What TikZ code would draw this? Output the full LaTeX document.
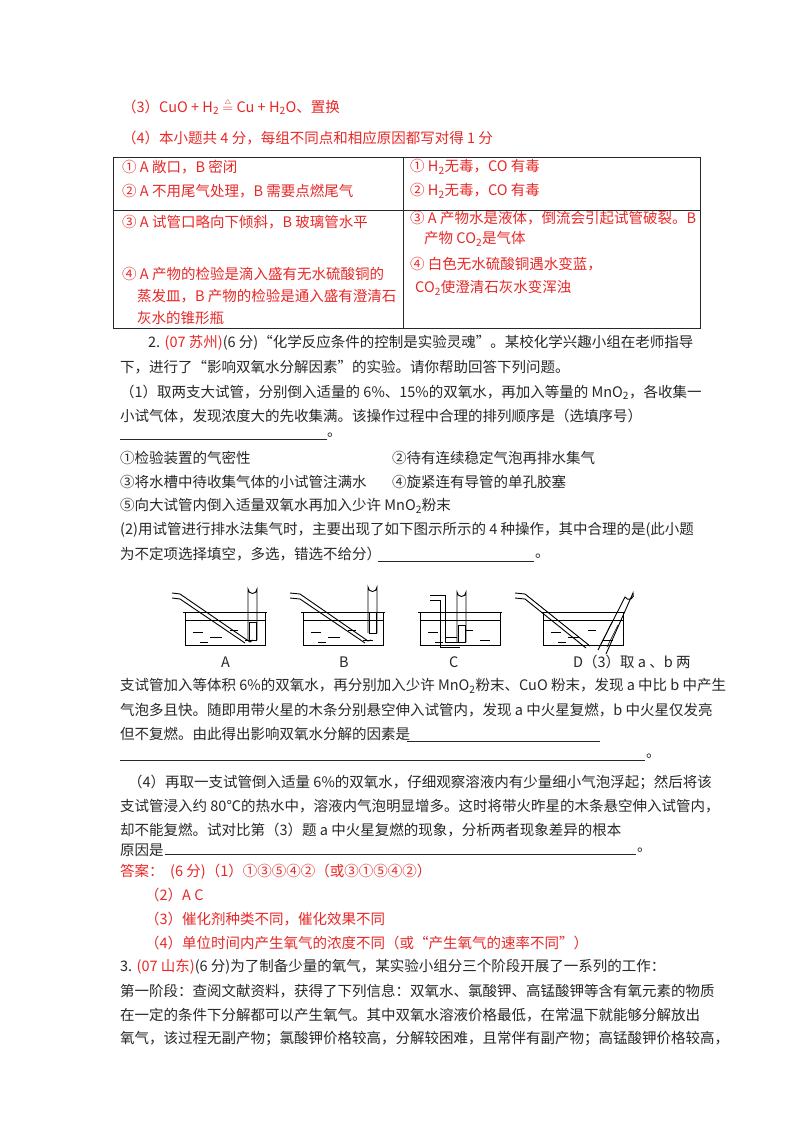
\documentclass[tikz,border=0pt]{standalone}
\usepackage{fontspec}
\setmainfont{Noto Sans CJK SC}
\definecolor{ans}{RGB}{232,40,40}
\definecolor{ink}{RGB}{40,40,40}
\tikzset{x=1pt,y=-1pt,
 tx/.style={anchor=west,inner sep=0pt,text=ink,font=\fontsize{14.5}{16}\selectfont},
 rd/.style={tx,text=ans},
 app/.style={line width=0.9pt,black},
 ul/.style={line width=0.7pt,ink}}
\newcommand\sub[1]{\textsubscript{#1}}
\begin{document}
\begin{tikzpicture}
\useasboundingbox[fill=white] (0,0) rectangle (800,1132);
% top answers
\node[rd] (a3) at (122,107) {（3）CuO + H\sub{2} $\stackrel{\scriptscriptstyle\triangle}{=}$ Cu + H\sub{2}O、置换};
\node[rd] (a4) at (122,138) {（4）本小题共 4 分，每组不同点和相应原因都写对得 1 分};
% table
\draw[line width=0.8pt,ink] (113,157) rectangle (700,328);
\draw[line width=0.8pt,ink] (113,210) -- (700,210) (403,157) -- (403,328);
\node[rd] (c1) at (122,167) {① A 敞口，B 密闭};
\node[rd] (c2) at (122,191) {② A 不用尾气处理，B 需要点燃尾气};
\node[rd] (c3) at (122,222) {③ A 试管口略向下倾斜，B 玻璃管水平};
\node[rd] (c4) at (122,274) {④ A 产物的检验是滴入盛有无水硫酸铜的};
\node[rd] (c5) at (137,296) {蒸发皿，B 产物的检验是通入盛有澄清石};
\node[rd] (c6) at (137,318) {灰水的锥形瓶};
\node[rd] (d1) at (410,167) {① H\sub{2}无毒，CO 有毒};
\node[rd] (d2) at (410,191) {② H\sub{2}无毒，CO 有毒};
\node[rd] (d3) at (410,218) {③ A 产物水是液体，倒流会引起试管破裂。B};
\node[rd] (d4) at (424,239) {产物 CO\sub{2}是气体};
\node[rd] (d5) at (410,264) {④ 白色无水硫酸铜遇水变蓝，};
\node[rd] (d6) at (415,288) {CO\sub{2}使澄清石灰水变浑浊};
% question 2
\node[tx] (q1) at (148,343) {2. \textcolor{ans}{(07 苏州)}(6 分)“化学反应条件的控制是实验灵魂”。某校化学兴趣小组在老师指导};
\node[tx] (q2) at (120,367) {下，进行了“影响双氧水分解因素”的实验。请你帮助回答下列问题。};
\node[tx] (q3) at (120,392) {（1）取两支大试管，分别倒入适量的 6\%、15\%的双氧水，再加入等量的 MnO\sub{2}，各收集一};
\node[tx] (q4) at (120,416) {小试气体，发现浓度大的先收集满。该操作过程中合理的排列顺序是（选填序号）};
\coordinate (u1a) at (120,439); \coordinate (u1b) at (327,439);
\draw[ul] (u1a) -- (u1b);
\node[tx] (p1) at (327,435) {。};
\node[tx] (o1) at (120,458) {①检验装置的气密性};
\node[tx] (o2) at (392,458) {②待有连续稳定气泡再排水集气};
\node[tx] (o3) at (120,482) {③将水槽中待收集气体的小试管注满水};
\node[tx] (o4) at (392,482) {④旋紧连有导管的单孔胶塞};
\node[tx] (o5) at (120,506) {⑤向大试管内倒入适量双氧水再加入少许 MnO\sub{2}粉末};
\node[tx] (q5) at (120,530) {(2)用试管进行排水法集气时，主要出现了如下图示所示的 4 种操作，其中合理的是(此小题};
\node[tx] (q6) at (120,554) {为不定项选择填空，多选，错选不给分）};
\coordinate (u2a) at (378,561); \coordinate (u2b) at (534,561);
\draw[ul] (u2a) -- (u2b);
\node[tx] (p2) at (535,556) {。};
% apparatus
\foreach \bx/\nm in {185/A,303/B,420/C,543/D}{
  \draw[app] (\bx-2,612) -- (\bx+82,612);
  \draw[app] (\bx,612) -- (\bx,645) -- (\bx+80,645) -- (\bx+80,612);
  \draw[line width=0.6pt] (\bx,620) -- (\bx+80,620);
  \foreach \dx/\dy/\l in {8/632/10,25/637/12,45/630/8,60/640/10,15/642/8}{\draw[line width=0.6pt] (\bx+\dx,\dy) -- ++(\l,0);}
}
% A
\draw[app] (172,593) -- (180,594) -- (250,642) -- (253,640);
\draw[app] (172,598) -- (180,599) -- (245,643);
\draw[app] (248,640) -- (248,589) arc[start angle=180,end angle=0,radius=4.5] -- (257,640);
\draw[line width=0.6pt] (249,622) rectangle (256,640);
% B
\draw[app] (290,593) -- (300,594) -- (368,641) -- (371,640);
\draw[app] (290,598) -- (300,599) -- (365,643);
\draw[app] (368,633) -- (368,587) arc[start angle=180,end angle=0,radius=4.5] -- (377,633);
\draw[line width=0.6pt] (369,612) rectangle (376,633);
% C
\draw[app] (430,595) -- (445,595) -- (445,642) -- (460,642);
\draw[app] (430,600) -- (440,600) -- (440,647) -- (460,647);
\draw[app] (457,642) -- (457,592) arc[start angle=180,end angle=0,radius=4.5] -- (466,642);
\draw[line width=0.6pt] (458,625) rectangle (465,642);
% D
\draw[app] (515,593) -- (525,594) -- (590,646);
\draw[app] (515,598) -- (525,599) -- (586,648);
\draw[app] (598,650) -- (625,597) arc[start angle=153,end angle=-27,radius=4.5] -- (606,654);
\draw[line width=0.6pt] (601,644) -- (612,622) (607,647) -- (618,625);
\node[tx] (lA) at (221,662) {A};
\node[tx] (lB) at (339,662) {B};
\node[tx] (lC) at (449,662) {C};
\node[tx] (q7) at (573,662) {D（3）取 a 、b 两};
\node[tx] (q8) at (120,686) {支试管加入等体积 6\%的双氧水，再分别加入少许 MnO\sub{2}粉末、CuO 粉末，发现 a 中比 b 中产生};
\node[tx] (q9) at (120,710) {气泡多且快。随即用带火星的木条分别悬空伸入试管内，发现 a 中火星复燃，b 中火星仅发亮};
\node[tx] (q10) at (120,734) {但不复燃。由此得出影响双氧水分解的因素是};
\coordinate (u3a) at (407,741); \coordinate (u3b) at (600,741);
\draw[ul] (u3a) -- (u3b);
\coordinate (u4a) at (120,760); \coordinate (u4b) at (645,760);
\draw[ul] (u4a) -- (u4b);
\node[tx] (p3) at (646,756) {。};
\node[tx] (q11) at (128,782) {（4）再取一支试管倒入适量 6\%的双氧水，仔细观察溶液内有少量细小气泡浮起；然后将该};
\node[tx] (q12) at (120,806) {支试管浸入约 80℃的热水中，溶液内气泡明显增多。这时将带火昨星的木条悬空伸入试管内，};
\node[tx] (q13) at (120,830) {却不能复燃。试对比第（3）题 a 中火星复燃的现象，分析两者现象差异的根本};
\node[tx] (q14) at (120,850) {原因是};
\coordinate (u5a) at (165,854); \coordinate (u5b) at (636,854);
\draw[ul] (u5a) -- (u5b);
\node[tx] (p4) at (637,850) {。};
% answers
\node[rd] (r1) at (120,872) {答案：\ \ (6 分)（1）①③⑤④②（或③①⑤④②）};
\node[rd] (r2) at (145,895) {（2）A C};
\node[rd] (r3) at (145,919) {（3）催化剂种类不同，催化效果不同};
\node[rd] (r4) at (145,943) {（4）单位时间内产生氧气的浓度不同（或“产生氧气的速率不同”）};
% question 3
\node[tx] (s1) at (120,967) {3. \textcolor{ans}{(07 山东)}(6 分)为了制备少量的氧气，某实验小组分三个阶段开展了一系列的工作：};
\node[tx] (s2) at (120,991) {第一阶段：查阅文献资料，获得了下列信息：双氧水、氯酸钾、高锰酸钾等含有氧元素的物质};
\node[tx] (s3) at (120,1015) {在一定的条件下分解都可以产生氧气。其中双氧水溶液价格最低，在常温下就能够分解放出};
\node[tx] (s4) at (120,1039) {氧气，该过程无副产物；氯酸钾价格较高，分解较困难，且常伴有副产物；高锰酸钾价格较高，};
\end{tikzpicture}
\end{document}
